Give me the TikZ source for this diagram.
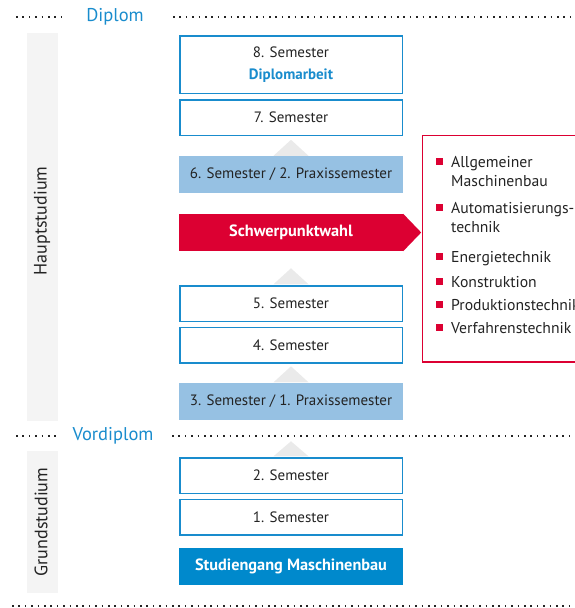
\documentclass[tikz,border=0pt]{standalone}
\usepackage{fontspec}
\setmainfont{PT Sans}
\usepackage{tikz}

\definecolor{semblue}{RGB}{25,140,205}
\definecolor{praxblue}{RGB}{150,193,227}
\definecolor{wahlred}{RGB}{220,0,50}
\definecolor{sgblue}{RGB}{0,137,204}
\definecolor{sidegray}{RGB}{244,244,244}
\definecolor{chevgray}{RGB}{234,234,234}
\definecolor{textgray}{RGB}{35,35,35}

\tikzset{
  sem/.style={draw=semblue, line width=1.5pt, fill=white, minimum width=222.5pt,
    minimum height=35.5pt, inner sep=0pt, text=textgray, font=\fontsize{15}{22}\selectfont},
  prax/.style={fill=praxblue, minimum width=224pt, minimum height=37pt, inner sep=0pt,
    text=textgray, font=\fontsize{15}{19}\selectfont},
  wahl/.style={fill=wahlred, minimum width=224pt, minimum height=37pt, inner sep=0pt,
    text=white, font=\bfseries\fontsize{16.3}{19}\selectfont},
  studgang/.style={fill=sgblue, minimum width=224pt, minimum height=37pt, inner sep=0pt,
    text=white, font=\bfseries\fontsize{16.3}{19}\selectfont},
  chev/.style={fill=chevgray},
  seite/.style={fill=sidegray},
  seitentext/.style={rotate=90, text=textgray, font=\fontsize{18}{22}\selectfont},
  abschluss/.style={text=semblue, font=\fontsize{18.5}{22}\selectfont},
  punkte/.style={draw=textgray, line width=1.6pt, dash pattern=on 1.6pt off 4.8pt},
  schwerpunkt/.style={anchor=north west, inner sep=0pt, align=left, text=textgray,
    font=\fontsize{15.7}{19.5}\selectfont},
  bullet/.style={fill=wahlred}
}

\begin{document}
\begin{tikzpicture}[x=1pt,y=-1pt]
\clip (0,0) rectangle (575,608);

% side bars
\fill[seite] (27,33) rectangle (58,421);
\node[seitentext] (haupt) at (42,221) {Hauptstudium};
\fill[seite] (27,451) rectangle (58,593);
\node[seitentext] (grund) at (41,522) {Grundstudium};

% dotted lines
\draw[punkte] (16,17) -- (62,17);
\node[abschluss] (dip) at (115,17) {Diplom};
\draw[punkte] (173,17) -- (575,17);
\draw[punkte] (16,436) -- (58,436);
\node[abschluss] (vordip) at (113,436) {Vordiplom};
\draw[punkte] (172,436) -- (575,436);
\draw[punkte] (12,606) -- (575,606);

% Hauptstudium
\node[sem, minimum height=57.5pt, align=center] (s8) at (291,64.5)
  {8. Semester\\\textcolor{semblue}{\bfseries Diplomarbeit}};
\node[sem] (s7) at (291,117.5) {7. Semester};
\node[prax] (s6) at (291,174.5) {6. Semester / 2. Praxissemester};
\fill[chev] ([xshift=-17.5pt]s6.north) -- ([yshift=16pt]s6.north) -- ([xshift=17.5pt]s6.north) -- cycle;

\node[wahl] (sw) at (291,232.5) {Schwerpunktwahl};
\fill[wahlred] (sw.north east) -- ([xshift=18pt]sw.east) -- (sw.south east) -- cycle;

\node[sem] (s5) at (291,303.5) {5. Semester};
\fill[chev] ([xshift=-17.5pt,yshift=0.75pt]s5.north) -- ([yshift=16.75pt]s5.north) -- ([xshift=17.5pt,yshift=0.75pt]s5.north) -- cycle;
\node[sem] (s4) at (291,345) {4. Semester};
\node[prax] (s3) at (291,401) {3. Semester / 1. Praxissemester};
\fill[chev] ([xshift=-17.5pt]s3.north) -- ([yshift=16pt]s3.north) -- ([xshift=17.5pt]s3.north) -- cycle;

% Grundstudium
\node[sem] (s2) at (291,475.5) {2. Semester};
\fill[chev] ([xshift=-17.5pt,yshift=0.75pt]s2.north) -- ([yshift=15.75pt]s2.north) -- ([xshift=17.5pt,yshift=0.75pt]s2.north) -- cycle;
\node[sem] (s1) at (291,517) {1. Semester};
\node[studgang] (sg) at (291,566.5) {Studiengang Maschinenbau};

% Schwerpunkte
\draw[wahlred, line width=1.3pt] (422.5,135.5) rectangle (620,362);
\node[schwerpunkt] (sp1) at (451,156) {Allgemeiner\\Maschinenbau};
\node[schwerpunkt] (sp2) at (451,202) {Automatisierungs-\\technik};
\node[schwerpunkt] (sp3) at (451,251) {Energietechnik};
\node[schwerpunkt] (sp4) at (451,276) {Konstruktion};
\node[schwerpunkt] (sp5) at (451,299) {Produktionstechnik};
\node[schwerpunkt] (sp6) at (451,322) {Verfahrenstechnik};
\fill[bullet] (436,158) rectangle (443,165);
\fill[bullet] (436,204) rectangle (443,211);
\fill[bullet] (436,253) rectangle (443,260);
\fill[bullet] (436,278) rectangle (443,285);
\fill[bullet] (436,301) rectangle (443,308);
\fill[bullet] (436,324) rectangle (443,331);
\end{tikzpicture}
\end{document}
